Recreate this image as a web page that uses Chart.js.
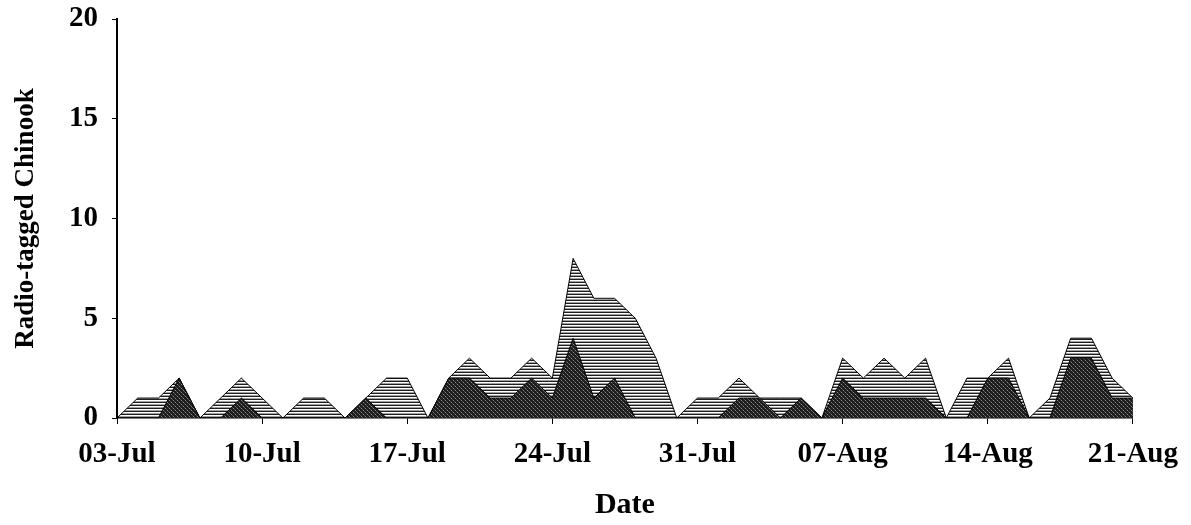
<!DOCTYPE html>
<html>
<head>
<meta charset="utf-8">
<script src="https://cdn.jsdelivr.net/npm/chart.js@4.4.1/dist/chart.umd.min.js"></script>
<style>
html,body{margin:0;padding:0;background:#fff;}
#wrap{width:1191px;height:525px;}
</style>
</head>
<body>
<div id="wrap"><canvas id="c" width="1191" height="525"></canvas></div>
<script>
// Daily categories 03-Jul .. 21-Aug
const dates = [
  '03-Jul','04-Jul','05-Jul','06-Jul','07-Jul','08-Jul','09-Jul','10-Jul','11-Jul','12-Jul',
  '13-Jul','14-Jul','15-Jul','16-Jul','17-Jul','18-Jul','19-Jul','20-Jul','21-Jul','22-Jul',
  '23-Jul','24-Jul','25-Jul','26-Jul','27-Jul','28-Jul','29-Jul','30-Jul','31-Jul','01-Aug',
  '02-Aug','03-Aug','04-Aug','05-Aug','06-Aug','07-Aug','08-Aug','09-Aug','10-Aug','11-Aug',
  '12-Aug','13-Aug','14-Aug','15-Aug','16-Aug','17-Aug','18-Aug','19-Aug','20-Aug','21-Aug'
];
// Tick labels shown on the x axis
const tickLabels = ['03-Jul','10-Jul','17-Jul','24-Jul','31-Jul','07-Aug','14-Aug','21-Aug'];
// Y axis ticks
const yTicks = [0, 5, 10, 15, 20];

// Total radio-tagged Chinook (striped area)
const totalCounts = [
  0,1,1,2,0,1,2,1,0,1,
  1,0,1,2,2,0,2,3,2,2,
  3,2,8,6,6,5,3,0,1,1,
  2,1,1,1,0,3,2,3,2,3,
  0,2,2,3,0,1,4,4,2,1
];
// Subset (dark stippled area)
const subsetCounts = [
  0,0,0,2,0,0,1,0,0,0,
  0,0,1,0,0,0,2,2,1,1,
  2,1,4,1,2,0,0,0,0,0,
  1,1,0,1,0,2,1,1,1,1,
  0,0,2,2,0,0,3,3,1,1
];

function makeStripe(){
  const c = document.createElement('canvas'); c.width = 4; c.height = 3;
  const g = c.getContext('2d');
  const rows = ['#1e1e1e', '#ffffff', '#a0a0a0'];
  rows.forEach((col,i)=>{ g.fillStyle = col; g.fillRect(0,i,4,1); });
  return g.createPattern(c,'repeat');
}
function makeStipple(){
  const c = document.createElement('canvas'); c.width = 4; c.height = 4;
  const g = c.getContext('2d');
  g.fillStyle = '#1c1c1c'; g.fillRect(0,0,4,4);
  g.fillStyle = '#8a8a8a'; g.fillRect(1,0,1,1); g.fillRect(3,2,1,1);
  g.fillStyle = '#505050'; g.fillRect(0,3,1,1); g.fillRect(2,1,1,1);
  return g.createPattern(c,'repeat');
}

const serif = "'Liberation Serif','Times New Roman',serif";

new Chart(document.getElementById('c'), {
  type: 'line',
  data: {
    labels: dates,
    datasets: [
      {
        label: 'Subset',
        data: subsetCounts,
        fill: 'origin',
        backgroundColor: makeStipple(),
        borderColor: '#000',
        borderWidth: 1,
        pointRadius: 0,
        tension: 0
      },
      {
        label: 'Total',
        data: totalCounts,
        fill: 'origin',
        backgroundColor: makeStripe(),
        borderColor: '#000',
        borderWidth: 1,
        pointRadius: 0,
        tension: 0
      }
    ]
  },
  options: {
    responsive: false,
    animation: false,
    events: [],
    layout: { padding: { top: 19, right: 58, left: 0, bottom: 0 } },
    plugins: {
      legend: { display: false },
      tooltip: { enabled: false },
      filler: { drawTime: 'beforeDatasetDraw' }
    },
    scales: {
      x: {
        type: 'category',
        offset: false,
        afterFit: s => { s.height = 107; },
        grid: {
          drawOnChartArea: false,
          tickLength: 6,
          color: ctx => tickLabels.includes(dates[ctx.index]) ? '#000' : 'rgba(0,0,0,0)'
        },
        border: { display: true, color: '#000', width: 1.5 },
        ticks: {
          autoSkip: false,
          maxRotation: 0,
          padding: 13,
          color: '#000',
          font: { family: serif, size: 29, weight: 'bold' },
          callback: function(v, i){ const l = dates[i]; return tickLabels.includes(l) ? l : ''; }
        },
        title: {
          display: true,
          text: 'Date',
          color: '#000',
          font: { family: serif, size: 30, weight: 'bold' },
          padding: { top: 0, bottom: 2 }
        }
      },
      y: {
        min: 0,
        max: 20,
        afterFit: s => { s.width = 117; s.paddingTop = 0; s.paddingBottom = 0; },
        afterBuildTicks: s => { s.ticks = yTicks.map(v => ({ value: v })); },
        grid: { drawOnChartArea: false, tickLength: 5, color: '#000' },
        border: { display: true, color: '#000', width: 2 },
        ticks: {
          padding: 14,
          color: '#000',
          font: { family: serif, size: 29, weight: 'bold' }
        },
        title: {
          display: true,
          text: 'Radio-tagged Chinook',
          color: '#000',
          font: { family: serif, size: 27, weight: 'bold' },
          padding: { top: 10, bottom: 0 }
        }
      }
    }
  }
});
</script>
</body>
</html>
